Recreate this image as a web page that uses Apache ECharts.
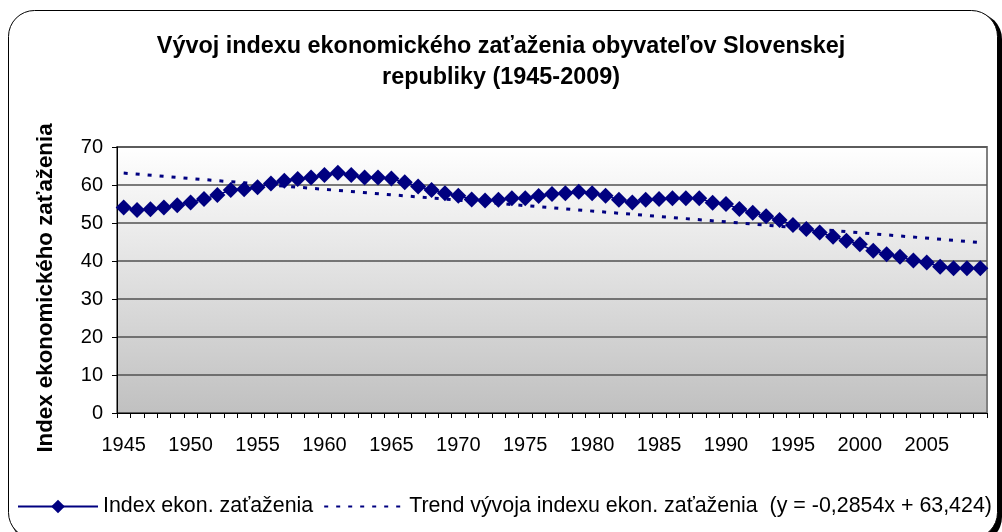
<!DOCTYPE html>
<html>
<head>
<meta charset="utf-8">
<script src="https://cdn.jsdelivr.net/npm/echarts@6/dist/echarts.min.js"></script>
<style>
  html, body { margin: 0; padding: 0; background: #fff; }
  #chart { width: 1002px; height: 532px; }
</style>
</head>
<body>
<div id="chart"></div>
<script>
// roky 1945-2009
const years = [];
for (let y = 1945; y <= 2009; y++) years.push(String(y));

// index ekonomického zaťaženia (odčítané z grafu)
const indexValues = [
  54.1, 53.4, 53.6, 54.1, 54.7, 55.4, 56.3, 57.4, 58.7, 58.9,
  59.4, 60.4, 61.1, 61.6, 62.0, 62.6, 63.2, 62.6, 62.0, 62.0,
  61.7, 60.7, 59.6, 58.7, 57.8, 57.2, 56.2, 55.9, 56.1, 56.5,
  56.5, 57.1, 57.6, 57.8, 58.2, 57.8, 57.2, 56.1, 55.4, 56.1,
  56.3, 56.5, 56.5, 56.5, 55.3, 55.0, 53.7, 52.7, 51.8, 50.8,
  49.5, 48.4, 47.5, 46.4, 45.3, 44.4, 42.7, 41.8, 41.1, 40.1,
  39.6, 38.5, 38.1, 38.1, 38.1
];

// trend - začiatok a koniec priamky
const trendYears = ['1945', '2009'];
const trendValues = [63.14, 44.87];

const titleText = 'Vývoj indexu ekonomického zaťaženia obyvateľov Slovenskej\nrepubliky (1945-2009)';
const seriesName = 'Index ekon. zaťaženia';
const trendName = 'Trend vývoja indexu ekon. zaťaženia  (y = -0,2854x + 63,424)';

const font = 'Arial, "Liberation Sans", sans-serif';

const myChart = echarts.init(document.getElementById('chart'));
myChart.setOption({
  animation: false,
  graphic: [
    {
      type: 'rect',
      z: -10,
      shape: { x: 11, y: 13, width: 991, height: 530, r: 26 },
      style: { fill: '#000' }
    },
    {
      type: 'rect',
      z: -9,
      shape: { x: 8.5, y: 10.5, width: 989, height: 528, r: 26 },
      style: { fill: '#fff', stroke: '#000', lineWidth: 1 }
    }
  ],
  title: {
    text: titleText,
    left: 'center',
    top: 26,
    padding: [5, 5, 5, 17],
    textStyle: {
      fontFamily: font,
      fontSize: 23.4,
      fontWeight: 'bold',
      color: '#000',
      lineHeight: 31
    }
  },
  legend: {
    left: 17,
    top: 496,
    padding: 0,
    itemWidth: 80,
    itemHeight: 17,
    itemGap: 10,
    textStyle: { fontFamily: font, fontSize: 21.4, color: '#000' },
    data: [
      seriesName,
      { name: trendName, itemStyle: { color: 'rgba(0,0,0,0)', borderColor: 'rgba(0,0,0,0)', borderWidth: 0 } }
    ]
  },
  grid: {
    left: 117,
    right: 15,
    top: 147,
    bottom: 119,
    show: true,
    borderColor: '#808080',
    borderWidth: 2,
    backgroundColor: {
      type: 'linear', x: 0, y: 0, x2: 0, y2: 1,
      colorStops: [
        { offset: 0, color: '#ffffff' },
        { offset: 1, color: '#c0c0c0' }
      ]
    }
  },
  xAxis: {
    type: 'category',
    data: years,
    boundaryGap: true,
    axisLine: { lineStyle: { color: '#000', width: 1 } },
    axisTick: { show: true, interval: 0, length: 5, lineStyle: { color: '#000' } },
    axisLabel: {
      interval: 4,
      margin: 22,
      fontFamily: font,
      fontSize: 20,
      color: '#000'
    },
    splitLine: { show: false }
  },
  yAxis: {
    type: 'value',
    min: 0,
    max: 70,
    interval: 10,
    name: 'Index ekonomického zaťaženia',
    nameLocation: 'middle',
    nameGap: 60,
    nameTextStyle: {
      fontFamily: font, fontSize: 22.3, fontWeight: 'bold', color: '#000',
      padding: [0, 16, 0, 0]
    },
    axisLine: { show: true, lineStyle: { color: '#000', width: 1 } },
    axisTick: { show: true, length: 5, lineStyle: { color: '#000' } },
    axisLabel: { margin: 14, fontFamily: font, fontSize: 20, color: '#000' },
    splitLine: { show: true, lineStyle: { color: '#505050', width: 1.5 } }
  },
  series: [
    {
      name: seriesName,
      type: 'line',
      data: indexValues,
      symbol: 'diamond',
      symbolSize: 16,
      showAllSymbol: true,
      lineStyle: { color: '#000080', width: 1.5 },
      itemStyle: { color: '#000080' },
      z: 3
    },
    {
      name: trendName,
      type: 'line',
      data: trendYears.map((y, i) => [y, trendValues[i]]),
      symbol: 'none',
      lineStyle: { color: '#000080', width: 3, type: [4, 8] },
      itemStyle: { color: '#000080' },
      z: 2
    }
  ]
});
</script>
</body>
</html>
